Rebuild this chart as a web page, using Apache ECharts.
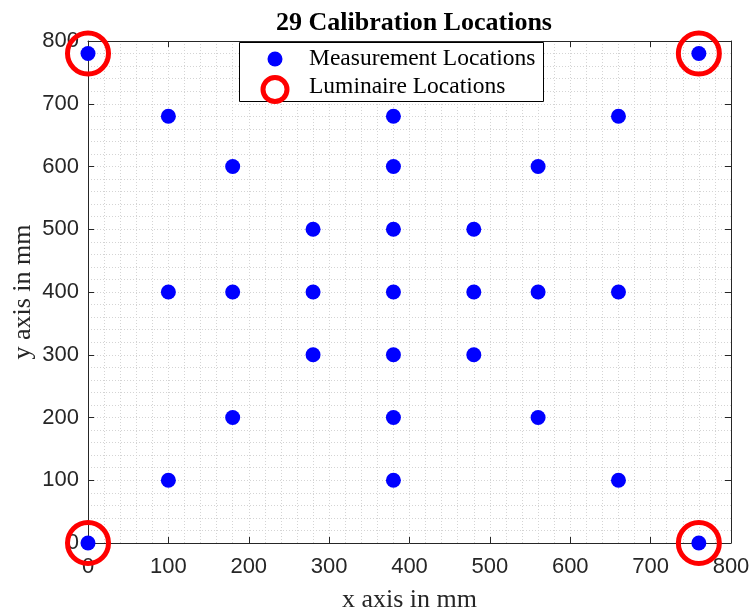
<!DOCTYPE html>
<html><head><meta charset="utf-8">
<script src="https://cdn.jsdelivr.net/npm/echarts@6/dist/echarts.min.js"></script>
<style>html,body{margin:0;padding:0;background:#fff}#c{width:752px;height:615px}</style>
</head><body><div id="c"></div>
<script>
const measX = [0,760,100,380,660,180,380,560,280,380,480,100,180,280,380,480,560,660,280,380,480,180,380,560,100,380,660,0,760];
const measY = [780,780,680,680,680,600,600,600,500,500,500,400,400,400,400,400,400,400,300,300,300,200,200,200,100,100,100,0,0];
const lumX = [0,760,0,760];
const lumY = [780,780,0,0];
const ticks = [0,100,200,300,400,500,600,700,800];
const title = '29 Calibration Locations';
const legendNames = ['Measurement Locations','Luminaire Locations'];

const chart = echarts.init(document.getElementById('c'));
const G = {left:88, top:41, width:643, height:502, containLabel:false, outerBoundsMode:'none'};
const axisCol = '#262626';
const gridStyle = {show:true, lineStyle:{color:'#d4d4d4', type:[1,2], width:1}};
function mainAxis(extra){
  return Object.assign({
    min:ticks[0], max:ticks[ticks.length-1], interval:100,
    axisLine:{show:true, onZero:false, lineStyle:{color:axisCol, width:1}},
    axisTick:{show:true, inside:true, length:6, lineStyle:{color:axisCol}},
    splitLine:gridStyle,
    minorTick:{show:false, splitNumber:5},
    minorSplitLine:gridStyle,
    nameMoveOverlap:false
  }, extra);
}
function sideAxis(extra){
  return Object.assign({
    min:ticks[0], max:ticks[ticks.length-1], interval:100,
    axisLine:{show:true, onZero:false, lineStyle:{color:axisCol, width:1}},
    axisTick:{show:true, inside:true, length:6, lineStyle:{color:axisCol}},
    splitLine:{show:false}, axisLabel:{show:false}
  }, extra);
}
const nameStyle = {fontFamily:'Liberation Serif', fontSize:26, color:axisCol};
chart.setOption({
  animation:false,
  title:{text:title, left:409, top:5, textAlign:'center',
    textStyle:{fontFamily:'Liberation Serif', fontWeight:'bold', fontSize:26, color:'#000'}},
  grid:G,
  xAxis:[
    mainAxis({type:'value', position:'bottom', name:'x axis in mm', nameLocation:'middle', nameGap:44,
      nameTextStyle:nameStyle,
      axisLabel:{color:axisCol, fontFamily:'Liberation Sans', fontSize:22, margin:13}}),
    sideAxis({type:'value', position:'top'})
  ],
  yAxis:[
    mainAxis({type:'value', position:'left', name:'y axis in mm', nameLocation:'middle', nameGap:52,
      nameTextStyle:nameStyle,
      axisLabel:{color:axisCol, fontFamily:'Liberation Sans', fontSize:22, margin:9}}),
    sideAxis({type:'value', position:'right'})
  ],
  series:[
    {name:legendNames[0], type:'scatter', clip:false, symbol:'circle', symbolSize:15,
      itemStyle:{color:'#0000ff', opacity:1}, data:measX.map((x,i)=>[x,measY[i]]), z:3},
    {name:legendNames[1], type:'scatter', clip:false, symbol:'circle', symbolSize:41,
      itemStyle:{color:'rgba(0,0,0,0)', borderColor:'#ff0000', borderWidth:5, opacity:1},
      data:lumX.map((x,i)=>[x,lumY[i]]), z:4}
  ],
  graphic:[
    {type:'rect', shape:{x:239.5, y:42.5, width:304, height:59}, style:{fill:'#fff', stroke:'#000', lineWidth:1}, z:10},
    {type:'circle', shape:{cx:275, cy:59, r:7.5}, style:{fill:'#0000ff'}, z:11},
    {type:'circle', shape:{cx:275, cy:89.5, r:12}, style:{fill:'none', stroke:'#ff0000', lineWidth:5}, z:11},
    {type:'text', style:{x:309, y:59, text:legendNames[0], font:'23.5px "Liberation Serif"', fill:'#000', textVerticalAlign:'middle', verticalAlign:'middle'}, z:11},
    {type:'text', style:{x:309, y:87, text:legendNames[1], font:'23.5px "Liberation Serif"', fill:'#000', textVerticalAlign:'middle', verticalAlign:'middle'}, z:11}
  ]
});
</script></body></html>
